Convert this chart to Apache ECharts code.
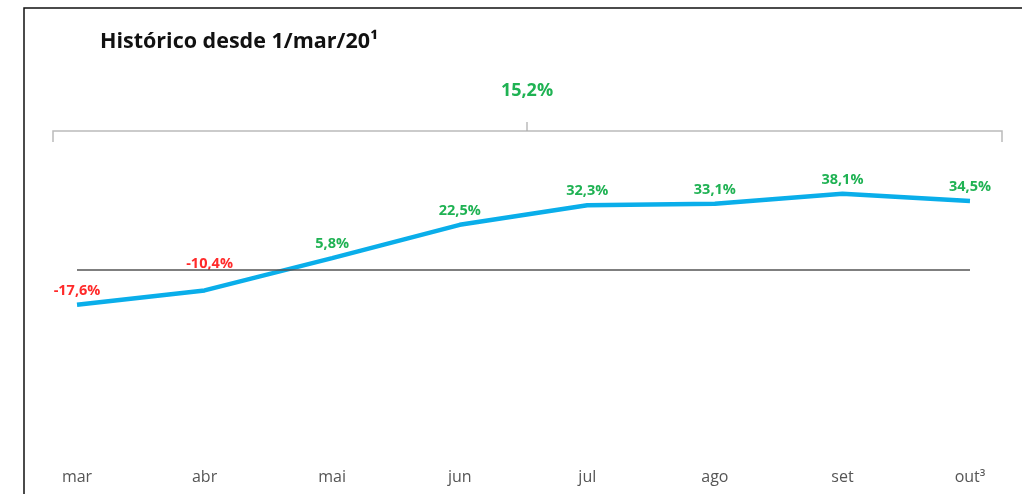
<!DOCTYPE html>
<html>
<head>
<meta charset="utf-8">
<script src="https://cdn.jsdelivr.net/npm/echarts@6/dist/echarts.min.js"></script>
<style>
  html, body { margin: 0; padding: 0; background: #fff; }
  #chart { width: 1022px; height: 494px; }
</style>
</head>
<body>
<div id="chart"></div>
<script>
const months = ['mar', 'abr', 'mai', 'jun', 'jul', 'ago', 'set', 'out³'];
const values = [-17.6, -10.4, 5.8, 22.5, 32.3, 33.1, 38.1, 34.5];
const totalLabel = '15,2%';
const titleText = 'Histórico desde 1/mar/20¹';

const RED = '#ff2a2a';
const GREEN = '#1fb253';
const chart = echarts.init(document.getElementById('chart'));

function fmt(v) {
	return v.toFixed(1).replace('.', ',') + '%';
}

const seriesData = values.map(function (v, i) {
	const item = {
		value: v,
		label: { color: v < 0 ? RED : GREEN }
	};
	if (i === 1) item.label.offset = [5, -13];
	return item;
});

chart.setOption({
	animation: false,
	textStyle: { fontFamily: 'Open Sans' },
	title: {
		text: titleText,
		left: 95,
		top: 26,
		textStyle: { fontSize: 21.5, fontWeight: 'bold', color: '#111', fontFamily: 'Open Sans' }
	},
	grid: { left: 77, right: 52, top: 170, height: 299 },
	xAxis: {
		type: 'category',
		data: months,
		boundaryGap: false,
		axisLine: { show: false },
		axisTick: { show: false },
		axisLabel: { color: '#555', fontSize: 16, margin: 0 }
	},
	yAxis: {
		type: 'value',
		min: -100,
		max: 50,
		show: false
	},
	series: [{
		type: 'line',
		data: seriesData,
		symbol: 'circle',
		symbolSize: 1,
		showSymbol: true,
		itemStyle: { color: 'rgba(0,0,0,0)' },
		lineStyle: { color: '#0aaeea', width: 4.5 },
		label: {
			show: true,
			position: 'top',
			distance: 6,
			fontSize: 14.5,
			fontWeight: 'bold',
			formatter: function (p) { return fmt(p.value); }
		},
		markLine: {
			silent: true,
			symbol: 'none',
			label: { show: false },
			lineStyle: { color: '#555', width: 1.5, type: 'solid' },
			data: [{ yAxis: 0 }]
		},
		z: 3
	}],
	graphic: [
		// frame
		{ type: 'polyline', shape: { points: [[24, 494], [24, 8], [1022, 8]] },
		  style: { stroke: '#111', lineWidth: 1.5, fill: null } },
		// bracket
		{ type: 'polyline', shape: { points: [[53, 142], [53, 131], [1002, 131], [1002, 142]] },
		  style: { stroke: '#bbb', lineWidth: 1.5, fill: null } },
		{ type: 'line', shape: { x1: 527, y1: 122, x2: 527, y2: 131 },
		  style: { stroke: '#aaa', lineWidth: 1.2 } },
		{ type: 'text', x: 527, y: 91,
		  style: { text: totalLabel, fill: GREEN, font: 'bold 18px "Open Sans"', align: 'center', verticalAlign: 'middle' } }
	]
});
</script>
</body>
</html>
